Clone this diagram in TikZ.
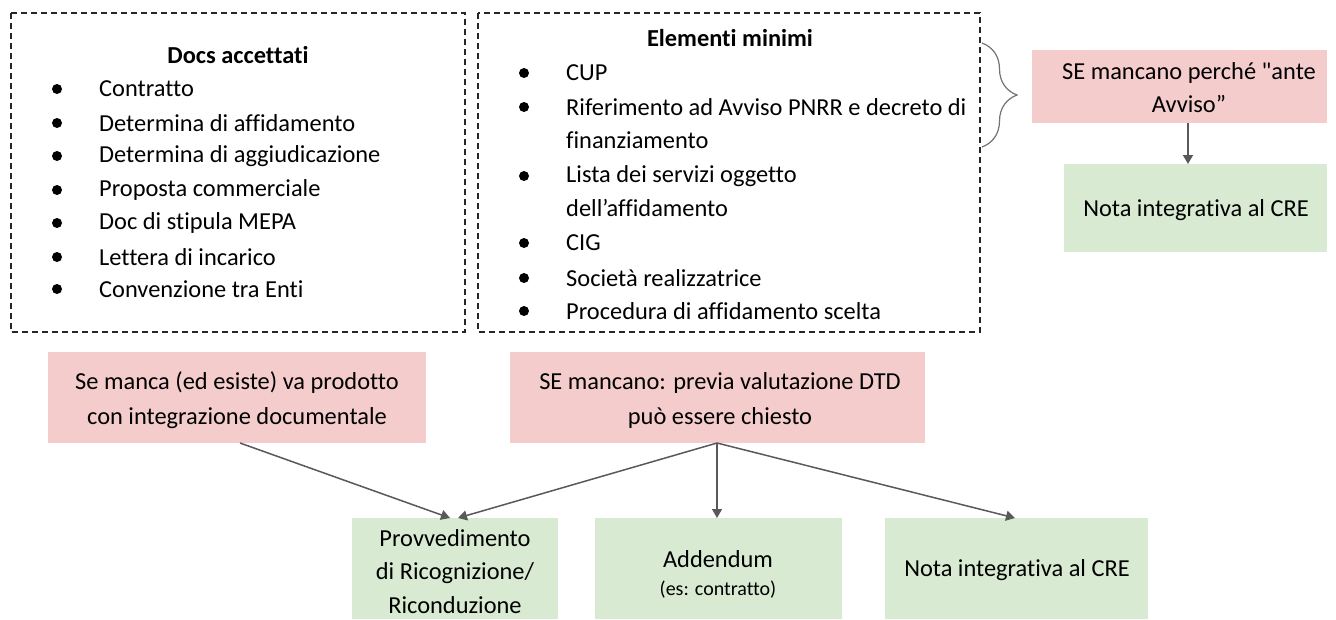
\documentclass[tikz,border=0pt]{standalone}
\usepackage{fontspec}
\setmainfont[Ligatures=NoCommon]{Carlito}
\usetikzlibrary{decorations.pathreplacing,arrows.meta}
\definecolor{pinkbox}{HTML}{F4CCCC}
\definecolor{greenbox}{HTML}{D9EAD3}
\definecolor{arrowgray}{HTML}{595959}
\begin{document}
\begin{tikzpicture}[x=1pt,y=-1pt,
  txt/.style={font=\fontsize{24.4}{29}\selectfont, inner sep=0pt},
  item/.style={txt, anchor=west},
  bul/.style={circle, fill=black, inner sep=0pt, minimum size=10pt},
  dashbox/.style={draw=black!85, dash pattern=on 6pt off 4pt, line width=1.4pt},
  pinkfill/.style={fill=pinkbox, draw=none},
  greenfill/.style={fill=greenbox, draw=none},
  conn/.style={draw=arrowgray, line width=1.5pt, -{Triangle[width=10pt,length=9pt]}}
]
\useasboundingbox (0,0) rectangle (1336,619);
% dashed boxes
\draw[dashbox] (11,13) rectangle (465,332);
\draw[dashbox] (478,13) rectangle (980,332);
% box 1
\node[txt, font=\fontsize{24.4}{29}\selectfont\bfseries] (t1) at (238,55) {Docs accettati};
\foreach \i/\y/\s in {1/89/Contratto, 2/123/Determina di affidamento, 3/156/Determina di aggiudicazione, 4/190/Proposta commerciale, 5/223/Doc di stipula MEPA, 6/257/Lettera di incarico, 7/289/Convenzione tra Enti}{
  \node[bul] (ba\i) at (57,\y) {};
  \node[item] (ia\i) at (99,\y) {\s};
}
% box 2
\node[txt, font=\fontsize{24.4}{29}\selectfont\bfseries] (t2) at (730,38) {Elementi minimi};
\foreach \i/\y in {1/73, 2/107, 3/176, 4/243, 5/278, 6/311}{
  \node[bul] (bb\i) at (524,\y) {};
}
\node[item] (ib1) at (566,73) {CUP};
\node[item] (ib2) at (566,107) {Riferimento ad Avviso PNRR e decreto di};
\node[item] (ib2b) at (566,140) {finanziamento};
\node[item] (ib3) at (566,176) {Lista dei servizi oggetto};
\node[item] (ib3b) at (566,208) {dell’affidamento};
\node[item] (ib4) at (566,243) {CIG};
\node[item] (ib5) at (566,278) {Società realizzatrice};
\node[item] (ib6) at (566,311) {Procedura di affidamento scelta};
% brace
\coordinate (brtop) at (982,43);
\coordinate (brbot) at (982,147);
\draw[black!55, line width=1.2pt, decorate, decoration={brace, amplitude=35pt, aspect=0.5}] (brtop) -- (brbot);
% right boxes
\fill[pinkfill] (1032,50) rectangle (1327,123);
\node[txt, align=center, font=\fontsize{24.4}{33}\selectfont] (ante) at (1189,87.5) {SE mancano perché \textquotedbl ante\\Avviso”};
\coordinate (anteb) at (1188,123);
\fill[greenfill] (1064,164) rectangle (1327,252);
\node[txt] (nota1) at (1196,210) {Nota integrativa al CRE};
\coordinate (nota1t) at (1188,164);
\draw[conn] (anteb) -- (nota1t);
% bottom pink boxes
\fill[pinkfill] (48,352) rectangle (426,443);
\node[txt, align=center, font=\fontsize{24.4}{35}\selectfont] (p1) at (237,400.5) {Se manca (ed esiste) va prodotto\\con integrazione documentale};
\fill[pinkfill] (510,352) rectangle (925,443);
\node[txt, align=center, font=\fontsize{24.4}{35}\selectfont] (p2) at (720,400.5) {SE mancano: previa valutazione DTD\\può essere chiesto};
\coordinate (p1b) at (240,443);
\coordinate (p2b) at (717,443);
% bottom green boxes
\fill[greenfill] (352,518) rectangle (558,619);
\node[txt, align=center, font=\fontsize{24.4}{33.5}\selectfont] (g1) at (455,571.5) {Provvedimento\\di Ricognizione/\\Riconduzione};
\fill[greenfill] (595,518) rectangle (842,619);
\node[txt] (g2) at (718,559) {Addendum};
\node[txt, font=\fontsize{20}{22}\selectfont] (g2s) at (718,590) {(es: contratto)};
\fill[greenfill] (885,518) rectangle (1148,619);
\node[txt] (g3) at (1017,570) {Nota integrativa al CRE};
\coordinate (g1ta) at (450,518);
\coordinate (g1tb) at (458,518);
\coordinate (g2t) at (717,518);
\coordinate (g3t) at (1015,518);
\draw[conn] (p1b) -- (g1ta);
\draw[conn] (p2b) -- (g1tb);
\draw[conn] (p2b) -- (g2t);
\draw[conn] (p2b) -- (g3t);
\end{tikzpicture}
\end{document}
